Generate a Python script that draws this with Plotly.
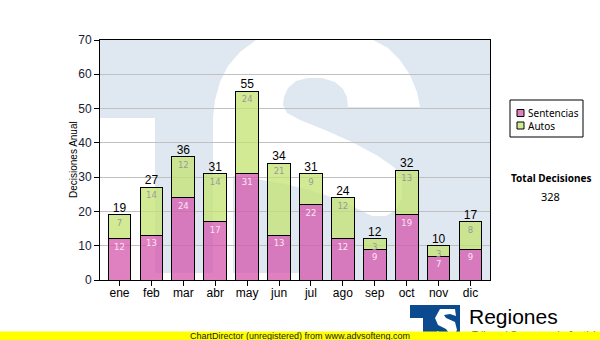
import plotly.graph_objects as go

# Monthly decisions, split by type
meses = ["ene", "feb", "mar", "abr", "may", "jun", "jul", "ago", "sep", "oct", "nov", "dic"]
sentencias = [12, 13, 24, 17, 31, 13, 22, 12, 9, 19, 7, 9]
autos = [7, 14, 12, 14, 24, 21, 9, 12, 3, 13, 3, 8]
totales = [s + a for s, a in zip(sentencias, autos)]
total_decisiones = sum(totales)

y_ticks = [0, 10, 20, 30, 40, 50, 60, 70]

W, H = 600, 340
L, R, T, B = 100, 490, 40, 280  # plot area in pixels

PINK = "rgba(212,86,171,0.75)"
GREEN = "rgba(196,227,112,0.75)"
PINK_KEY = "#df80c0"
GREEN_KEY = "#d3ea94"
WM_BLUE = "#dfe8f1"


def px(x):
    return (x - L) / (R - L)


def py(y):
    return (B - y) / (B - T)


def poly(points):
    return "M " + " L ".join(f"{px(x):.4f},{py(y):.4f}" for x, y in points) + " Z"


fig = go.Figure()

fig.add_trace(go.Bar(
    x=meses, y=sentencias, name="Sentencias",
    marker=dict(color=PINK, line=dict(color="black", width=1)),
    text=sentencias, texttemplate="%{text}", textposition="inside",
    insidetextanchor="end", textangle=0, constraintext="none",
    textfont=dict(family="DejaVu Sans", size=8.5, color="#fbe6f4"),
    hoverinfo="skip", showlegend=False,
))
fig.add_trace(go.Bar(
    x=meses, y=autos, name="Autos",
    marker=dict(color=GREEN, line=dict(color="black", width=1)),
    text=autos, texttemplate="%{text}", textposition="inside",
    insidetextanchor="end", textangle=0, constraintext="none",
    textfont=dict(family="DejaVu Sans", size=8.5, color="#9a9a9a"),
    hoverinfo="skip", showlegend=False,
))
fig.add_trace(go.Scatter(
    x=meses, y=totales, mode="text", text=[str(t) for t in totales],
    textposition="top center", cliponaxis=False,
    textfont=dict(family="Liberation Sans", size=12, color="black"),
    hoverinfo="skip", showlegend=False,
))

shapes = []
# watermark: light blue field with white letter regions
shapes.append(dict(type="rect", xref="paper", yref="paper", x0=0, x1=1, y0=0, y1=1,
                   fillcolor=WM_BLUE, line=dict(width=0), layer="below"))
# upper stroke of the letter, its left side and the diagonal spine
s_letter = [
    (256, 40), (373, 40), (388, 48), (400, 60), (410, 75), (417, 92), (420, 107),
    (348, 107), (347, 97), (343, 89), (335, 82), (322, 78), (308, 78),
    (296, 81), (288, 88), (284, 97), (283, 105), (287, 113), (300, 120),
    (325, 130), (352, 142), (378, 156), (395, 168), (402, 182), (402, 198),
    (396, 210), (386, 216), (372, 216), (360, 210), (340, 200), (310, 190),
    (280, 183), (250, 178), (233, 176), (233, 273), (300, 273), (300, 280),
    (100, 280), (100, 118), (213, 118),
    (215, 100), (220, 82), (228, 66), (240, 52),
]
shapes.append(dict(type="path", xref="paper", yref="paper", path=poly(s_letter),
                   fillcolor="white", line=dict(width=0), layer="below"))
stem = [(155, 118), (213, 118), (213, 273), (155, 273)]
shapes.append(dict(type="path", xref="paper", yref="paper", path=poly(stem),
                   fillcolor=WM_BLUE, line=dict(width=0), layer="below"))

# legend box
shapes.append(dict(type="rect", xref="paper", yref="paper",
                   x0=px(510), x1=px(583), y0=py(137), y1=py(100),
                   fillcolor="white", line=dict(color="black", width=1)))
annotations = []
legend_names = ["Sentencias", "Autos"]
legend_cols = [PINK_KEY, GREEN_KEY]
for i, col in enumerate(legend_cols):
    yc = 113 + 12.5 * i
    shapes.append(dict(type="rect", xref="paper", yref="paper",
                       x0=px(517), x1=px(524), y0=py(yc + 3.5), y1=py(yc - 3.5),
                       fillcolor=col, line=dict(color="black", width=1)))
annotations.append(dict(xref="paper", yref="paper", x=px(527), y=py(119),
                        xanchor="left", yanchor="middle", align="left", showarrow=False,
                        text="<br>".join(legend_names), borderpad=0,
                        font=dict(family="Noto Sans", size=10, color="black")))

annotations.append(dict(xref="paper", yref="paper", x=px(551), y=py(178),
                        xanchor="center", yanchor="middle", showarrow=False,
                        text="<b>Total Decisiones</b>",
                        font=dict(family="Noto Sans", size=10, color="black")))
annotations.append(dict(xref="paper", yref="paper", x=px(550), y=py(196),
                        xanchor="center", yanchor="middle", showarrow=False,
                        text=str(total_decisiones),
                        font=dict(family="Noto Sans", size=11, color="black")))
annotations.append(dict(xref="paper", yref="paper", x=px(73), y=py(160),
                        xanchor="center", yanchor="middle", showarrow=False,
                        text="Decisiones Anual", textangle=-90,
                        font=dict(family="Liberation Sans", size=10, color="black")))

# logo block at the bottom
LOGO_BLUE = "#0b4a8e"
shapes.append(dict(type="rect", xref="paper", yref="paper",
                   x0=px(410), x1=px(460), y0=py(340), y1=py(305),
                   fillcolor=LOGO_BLUE, line=dict(width=0), layer="above"))
shapes.append(dict(type="rect", xref="paper", yref="paper",
                   x0=px(410), x1=px(423), y0=py(340), y1=py(318),
                   fillcolor="white", line=dict(width=0), layer="above"))
logo_s = [
    (440, 309), (455, 309), (456, 316), (450, 314), (444, 315), (446, 318),
    (455, 322), (457, 330), (452, 338), (438, 338), (437, 331), (444, 334),
    (449, 333), (446, 329), (438, 325), (435, 318),
]
shapes.append(dict(type="path", xref="paper", yref="paper", path=poly(logo_s),
                   fillcolor="white", line=dict(width=0), layer="above"))
annotations.append(dict(xref="paper", yref="paper", x=px(467), y=py(316),
                        xanchor="left", yanchor="middle", showarrow=False,
                        text="Regiones",
                        font=dict(family="Liberation Sans", size=21, color="black")))
# subtitle under the logo, mostly covered by the footer band
shapes.append(dict(type="rect", xref="paper", yref="paper",
                   x0=px(467), x1=px(600), y0=py(340), y1=py(329),
                   fillcolor="rgba(0,0,0,0)", line=dict(width=0), layer="above",
                   label=dict(text="Tribunal Supremo de Justicia", textposition="middle left",
                              font=dict(family="Liberation Sans", size=10, color="black"),
                              padding=2)))
# footer band
shapes.append(dict(type="rect", xref="paper", yref="paper",
                   x0=px(0), x1=px(600), y0=py(340), y1=py(331.5),
                   fillcolor="#ffff00", line=dict(width=0), layer="above"))
annotations.append(dict(xref="paper", yref="paper", x=px(300), y=py(335.5),
                        xanchor="center", yanchor="middle", showarrow=False,
                        text="ChartDirector (unregistered) from www.advsofteng.com",
                        font=dict(family="Liberation Sans", size=9, color="#202020")))

fig.update_layout(
    width=W, height=H,
    margin=dict(l=L, r=W - R, t=T, b=H - B, pad=0),
    paper_bgcolor="white", plot_bgcolor="rgba(0,0,0,0)",
    barmode="stack", bargap=0.29,
    showlegend=False,
    shapes=shapes, annotations=annotations,
    font=dict(family="Liberation Sans", color="black"),
)
fig.update_xaxes(
    showline=True, linecolor="black", linewidth=1, mirror=True,
    ticks="outside", ticklen=5, tickcolor="black", ticklabelstandoff=-3,
    tickfont=dict(family="Liberation Sans", size=12, color="black"),
    showgrid=False,
)
fig.update_yaxes(
    range=[0, 70], tickvals=y_ticks,
    showline=True, linecolor="black", linewidth=1, mirror=True,
    ticks="outside", ticklen=5, tickcolor="black",
    tickfont=dict(family="Liberation Sans", size=12, color="#1a1a33"),
    showgrid=True, gridcolor="#c0c0c0", gridwidth=1, zeroline=False,
)

fig.write_html("out.html")
